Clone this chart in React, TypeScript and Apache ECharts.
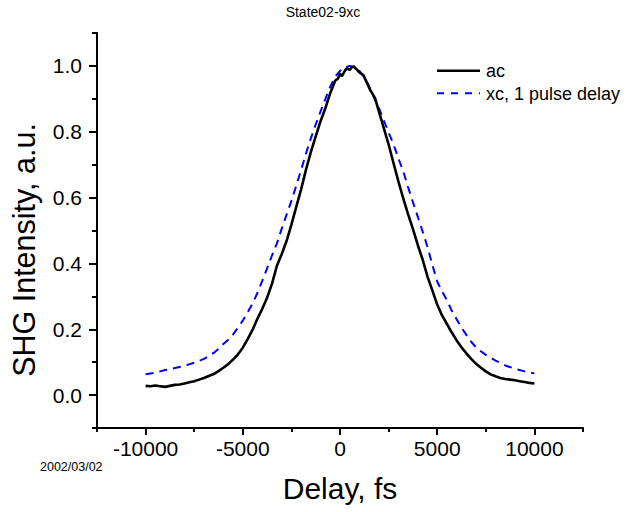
import React, { useEffect, useRef } from 'react';
import * as echarts from 'echarts';

const FONT = '"Liberation Sans", Arial, Helvetica, sans-serif';

const acDelay = [
  -10000, -9750, -9500, -9250, -9000, -8750, -8500, -8250, -8000, -7750, -7500, -7250, -7000, -6750, -6500, -6250,
  -6000, -5750, -5500, -5250, -5000, -4750, -4500, -4250, -4000, -3750, -3500, -3250, -3000, -2750, -2500, -2250,
  -2000, -1750, -1500, -1250, -1000, -750, -500, -250, -100, 0, 100, 250, 350, 500, 600, 700, 850, 1000, 1200, 1400,
  1550, 1800, 2000, 2250, 2500, 2750, 3000, 3250, 3500, 3750, 4000, 4250, 4500, 4750, 5000, 5250, 5500, 5750, 6000,
  6250, 6500, 6750, 7000, 7250, 7500, 7750, 8000, 8250, 8500, 8750, 9000, 9250, 9500, 9750, 10000,
];
const acIntensity = [
  0.028, 0.027, 0.029, 0.027, 0.025, 0.028, 0.031, 0.032, 0.035, 0.039, 0.042, 0.047, 0.052, 0.058, 0.064, 0.073,
  0.083, 0.094, 0.108, 0.124, 0.144, 0.17, 0.198, 0.232, 0.262, 0.296, 0.338, 0.392, 0.428, 0.468, 0.518, 0.572,
  0.625, 0.685, 0.738, 0.786, 0.832, 0.872, 0.918, 0.955, 0.962, 0.977, 0.969, 0.985, 0.993, 0.988, 0.996, 0.998,
  0.99, 0.98, 0.972, 0.947, 0.927, 0.902, 0.862, 0.812, 0.762, 0.705, 0.65, 0.598, 0.55, 0.505, 0.456, 0.412, 0.36,
  0.318, 0.275, 0.242, 0.216, 0.19, 0.166, 0.145, 0.127, 0.11, 0.095, 0.083, 0.072, 0.063, 0.057, 0.052, 0.049,
  0.047, 0.045, 0.042, 0.04, 0.037, 0.035,
];

const xcDelay = [
  -10000, -9500, -9000, -8500, -8000, -7500, -7000, -6500, -6250, -6000, -5750, -5500, -5250, -5000, -4750, -4500,
  -4250, -4000, -3750, -3500, -3250, -3000, -2750, -2500, -2250, -2000, -1750, -1500, -1250, -1000, -750, -500, -250,
  0, 250, 500, 750, 1000, 1250, 1500, 1750, 2000, 2250, 2500, 2750, 3000, 3250, 3500, 3750, 4000, 4250, 4500, 4750,
  5000, 5250, 5500, 5750, 6000, 6250, 6500, 6750, 7000, 7500, 8000, 8500, 9000, 9500, 10000,
];
const xcIntensity = [
  0.063, 0.068, 0.076, 0.082, 0.089, 0.098, 0.11, 0.128, 0.14, 0.155, 0.168, 0.184, 0.205, 0.226, 0.252, 0.278,
  0.31, 0.347, 0.385, 0.424, 0.46, 0.505, 0.548, 0.59, 0.636, 0.684, 0.734, 0.78, 0.822, 0.862, 0.9, 0.937, 0.967,
  0.985, 0.995, 1.0, 0.996, 0.985, 0.966, 0.938, 0.904, 0.872, 0.835, 0.798, 0.762, 0.72, 0.68, 0.632, 0.586, 0.542,
  0.497, 0.45, 0.396, 0.345, 0.315, 0.288, 0.256, 0.23, 0.205, 0.183, 0.162, 0.144, 0.122, 0.105, 0.09, 0.08, 0.072,
  0.066,
];

const xMajorTicks = [-10000, -5000, 0, 5000, 10000];
const xMinorTicks = [-12500, -7500, -2500, 2500, 7500, 12500];
const yMajorTicks = [0, 0.2, 0.4, 0.6, 0.8, 1.0];
const yMinorTicks = [-0.1, 0.1, 0.3, 0.5, 0.7, 0.9, 1.1];

const titleText = 'State02-9xc';
const xName = 'Delay, fs';
const yName = 'SHG Intensity, a.u.';
const dateText = '2002/03/02';
const legendNames = ['ac', 'xc, 1 pulse delay'];

export default function App() {
  const ref = useRef<HTMLDivElement>(null);
  useEffect(() => {
    document.body.style.margin = '0';
    const chart = echarts.init(ref.current as HTMLDivElement, null, { renderer: 'svg' });
    const axisLineStyle = { color: '#000', width: 2 };
    const txt = (x: number, y: number, text: string, size: number, align: string, rotation = 0) => ({
      type: 'text',
      x,
      y,
      rotation,
      style: {
        text,
        fontSize: size,
        fontFamily: FONT,
        fill: '#000',
        align,
        textAlign: align,
        verticalAlign: 'middle',
        textVerticalAlign: 'middle',
      },
    });
    const option = {
      animation: false,
      backgroundColor: '#fff',
      grid: { left: 97, right: 46, top: 33, bottom: 84, containLabel: false },
      xAxis: [
        {
          type: 'value',
          min: -12500,
          max: 12500,
          position: 'bottom',
          axisLine: { show: true, onZero: false, lineStyle: axisLineStyle },
          axisTick: { show: true, length: 7, customValues: xMajorTicks, lineStyle: axisLineStyle },
          axisLabel: {
            show: true,
            customValues: xMajorTicks,
            fontSize: 21,
            fontFamily: FONT,
            color: '#000',
            margin: 10,
            formatter: (v: number) => String(v),
          },
          splitLine: { show: false },
        },
        {
          type: 'value',
          min: -12500,
          max: 12500,
          position: 'bottom',
          axisLine: { show: false, onZero: false },
          axisTick: { show: true, length: 4, customValues: xMinorTicks, lineStyle: axisLineStyle },
          axisLabel: { show: false },
          splitLine: { show: false },
        },
      ],
      yAxis: [
        {
          type: 'value',
          min: -0.1,
          max: 1.1,
          position: 'left',
          axisLine: { show: true, onZero: false, lineStyle: axisLineStyle },
          axisTick: { show: true, length: 8, customValues: yMajorTicks, lineStyle: axisLineStyle },
          axisLabel: {
            show: true,
            customValues: yMajorTicks,
            fontSize: 21,
            fontFamily: FONT,
            color: '#000',
            margin: 15,
            formatter: (v: number) => v.toFixed(1),
          },
          splitLine: { show: false },
        },
        {
          type: 'value',
          min: -0.1,
          max: 1.1,
          position: 'left',
          offset: 0,
          axisLine: { show: false, onZero: false },
          axisTick: { show: true, length: 5, customValues: yMinorTicks, lineStyle: axisLineStyle },
          axisLabel: { show: false },
          splitLine: { show: false },
        },
      ],
      series: [
        {
          type: 'line',
          name: legendNames[1],
          xAxisIndex: 0,
          yAxisIndex: 0,
          data: xcDelay.map((d, i) => [d, xcIntensity[i]]),
          showSymbol: false,
          symbol: 'none',
          lineStyle: { color: '#0000ff', width: 2, type: [8, 6] },
          z: 2,
        },
        {
          type: 'line',
          name: legendNames[0],
          xAxisIndex: 0,
          yAxisIndex: 0,
          data: acDelay.map((d, i) => [d, acIntensity[i]]),
          showSymbol: false,
          symbol: 'none',
          lineStyle: { color: '#000', width: 2.6 },
          z: 3,
        },
      ],
      graphic: [
        txt(323, 12, titleText, 14, 'center'),
        txt(340, 488, xName, 30, 'center'),
        txt(24, 250, yName, 30.5, 'center', Math.PI / 2),
        txt(40, 467, dateText, 12.5, 'left'),
        {
          type: 'line',
          shape: { x1: 437, y1: 70.7, x2: 480, y2: 70.7 },
          style: { stroke: '#000', lineWidth: 2.6 },
        },
        {
          type: 'line',
          shape: { x1: 437, y1: 93.3, x2: 480, y2: 93.3 },
          style: { stroke: '#0000ff', lineWidth: 2, lineDash: [7, 7] },
        },
        txt(486, 71, legendNames[0], 18, 'left'),
        txt(486, 94, legendNames[1], 18, 'left'),
      ],
    };
    chart.setOption(option as any);
    return () => chart.dispose();
  }, []);
  return <div ref={ref} style={{ width: 629, height: 512 }} />;
}
